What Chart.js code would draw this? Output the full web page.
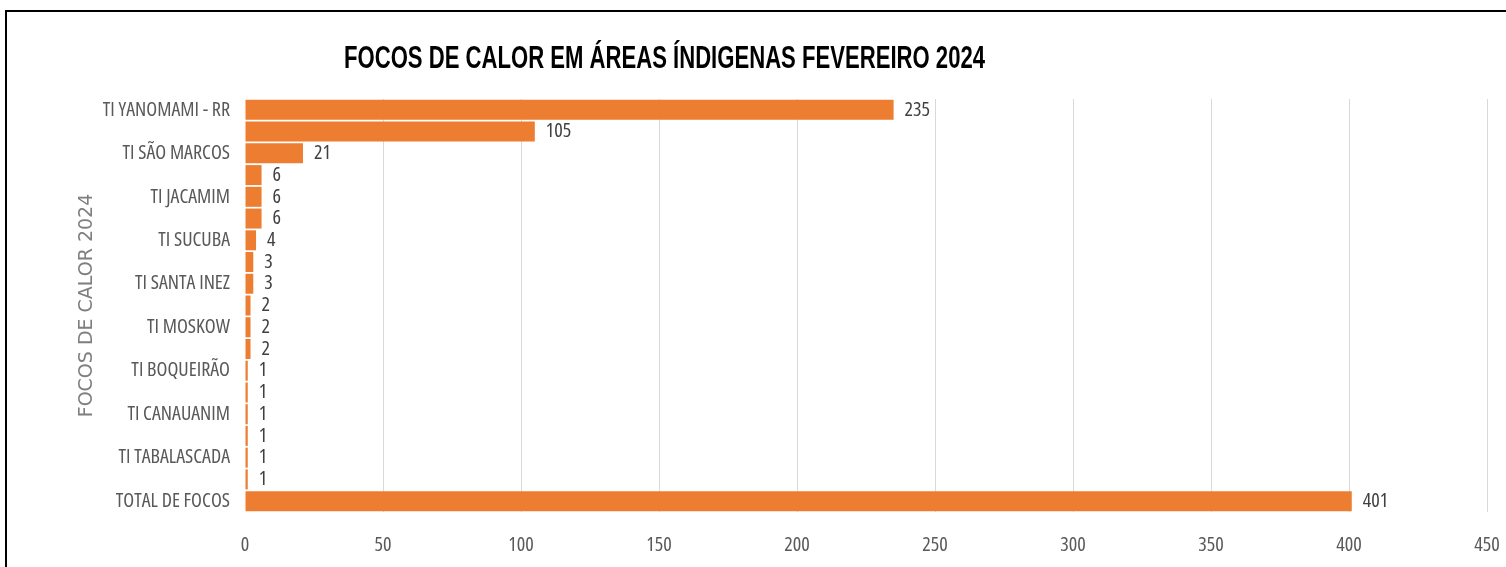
<!DOCTYPE html>
<html>
<head>
<meta charset="utf-8">
<script src="https://cdn.jsdelivr.net/npm/chart.js@4/dist/chart.umd.min.js"></script>
<style>
  html, body { margin: 0; padding: 0; background: #fff; overflow: hidden; }
  #wrap { position: relative; width: 1506px; height: 567px; }
  #frame { position: absolute; left: 5px; top: 10px; width: 1520px; height: 600px; border: 2px solid #000; box-sizing: border-box; }
  #titulo { position: absolute; left: 344px; top: 41px; font: bold 32px/32px "Liberation Sans", Arial, sans-serif; color: #000; white-space: nowrap; transform-origin: 0 0; }
  canvas { position: absolute; left: 0; top: 0; }
</style>
</head>
<body>
<div id="wrap">
  <div id="frame"></div>
  <canvas id="grafico" width="1506" height="567"></canvas>
  <div id="titulo">FOCOS DE CALOR EM ÁREAS ÍNDIGENAS FEVEREIRO 2024</div>
</div>
<script>
const areas = [
  'TI YANOMAMI - RR', 'TI RAPOSA SERRA DO SOL', 'TI SÃO MARCOS', 'TI MANOÁ/PIUM',
  'TI JACAMIM', 'TI MALACACHETA', 'TI SUCUBA', 'TI ARAÇÁ', 'TI SANTA INEZ',
  'TI SERRA DA MOÇA', 'TI MOSKOW', 'TI PONTA DA SERRA', 'TI BOQUEIRÃO',
  'TI ANARO', 'TI CANAUANIM', 'TI JABUTI', 'TI TABALASCADA', 'TI ANIGAL',
  'TOTAL DE FOCOS'
];
const focos = [235, 105, 21, 6, 6, 6, 4, 3, 3, 2, 2, 2, 1, 1, 1, 1, 1, 1, 401];
const xTicks = [0, 50, 100, 150, 200, 250, 300, 350, 400, 450];

// título estreito (tipo Arial Narrow)
const t = document.getElementById('titulo');
t.style.transform = 'scaleX(' + (641 / t.getBoundingClientRect().width) + ')';

// Open Sans condensada, parecida com a Calibri estreita do original
const fonte = size => ({ family: '"Open Sans", sans-serif', weight: 'condensed', size });

const rotulos = {
  id: 'rotulos',
  afterDatasetsDraw(chart) {
    const ctx = chart.ctx;
    ctx.save();
    ctx.font = 'condensed 20px "Open Sans", sans-serif';
    ctx.fillStyle = '#404040';
    ctx.textBaseline = 'middle';
    ctx.textAlign = 'left';
    chart.getDatasetMeta(0).data.forEach((bar, i) => {
      ctx.fillText(String(focos[i]), bar.x + 11, bar.y);
    });
    ctx.restore();
  }
};

new Chart(document.getElementById('grafico'), {
  type: 'bar',
  data: {
    labels: areas,
    datasets: [{
      data: focos,
      backgroundColor: '#ED7D31',
      borderWidth: 0,
      barPercentage: 0.92,
      categoryPercentage: 1
    }]
  },
  options: {
    indexAxis: 'y',
    responsive: false,
    animation: false,
    events: [],
    layout: { padding: { left: 72, right: 19, top: 99, bottom: 0 } },
    plugins: {
      legend: { display: false },
      tooltip: { enabled: false },
      title: { display: false }
    },
    scales: {
      x: {
        min: 0,
        max: 450,
        afterBuildTicks: s => { s.ticks = xTicks.map(v => ({ value: v })); },
        afterFit: s => { s.height = 55; s.paddingLeft = 0; s.paddingRight = 0; },
        grid: {
          drawTicks: false,
          color: c => c.tick && c.tick.value === 0 ? 'rgba(0,0,0,0)' : '#d9d9d9'
        },
        border: { display: false },
        ticks: {
          padding: 21,
          color: '#595959',
          font: fonte(20),
          maxRotation: 0
        }
      },
      y: {
        afterFit: s => { s.width = 173; s.paddingTop = 0; s.paddingBottom = 0; },
        grid: { display: false, drawTicks: false },
        border: { display: false },
        ticks: {
          autoSkip: false,
          padding: 15,
          color: '#595959',
          font: fonte(20),
          callback: function (v, i) { return i % 2 === 0 ? this.getLabelForValue(v) : ''; }
        },
        title: {
          display: true,
          text: 'FOCOS DE CALOR 2024',
          color: '#7f7f7f',
          font: { family: '"DejaVu Sans", Verdana, sans-serif', size: 19 },
          padding: 4
        }
      }
    }
  },
  plugins: [rotulos]
});
</script>
</body>
</html>
